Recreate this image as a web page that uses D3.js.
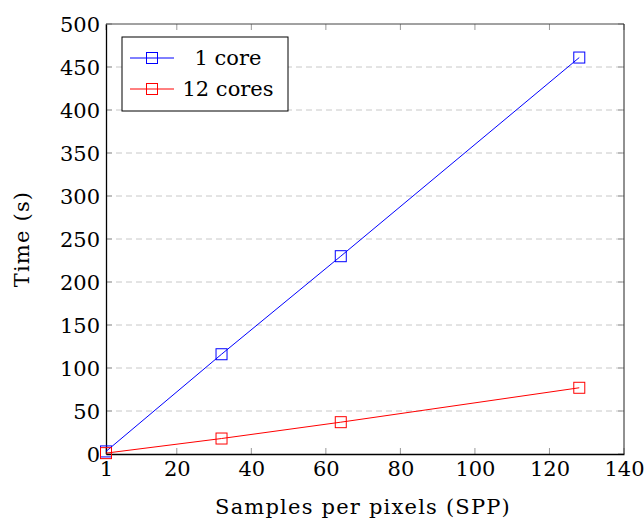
<!DOCTYPE html>
<html>
<head>
<meta charset="utf-8">
<script src="https://cdn.jsdelivr.net/npm/d3@7"></script>
<style>
  body { margin: 0; background: #fff; }
  text { font-family: "DejaVu Serif", "Liberation Serif", serif; }
</style>
</head>
<body>
<div id="chart"></div>
<script>
var svgWidth = 644;
var svgHeight = 524;

var margin = { top: 24, right: 20, bottom: 70, left: 106 };
var width = 624 - margin.left;
var height = 454 - margin.top;
var fontSize = 21;

// data
var spp = [1, 32, 64, 128];
var oneCore = [3, 116, 230, 461];
var twelveCores = [1, 18, 37, 77];
var seriesNames = ["1 core", "12 cores"];
var seriesColors = ["#0000ff", "#ff0000"];
var xTicks = [1, 20, 40, 60, 80, 100, 120, 140];
var yTicks = [0, 50, 100, 150, 200, 250, 300, 350, 400, 450, 500];

var svg = d3.select("#chart").append("svg")
  .attr("width", svgWidth)
  .attr("height", svgHeight);

var chartGroup = svg.append("g")
  .attr("transform", `translate(${margin.left}, ${margin.top})`);

var x = d3.scaleLinear().domain([1, 140]).range([0, width]);
var y = d3.scaleLinear().domain([0, 500]).range([height, 0]);

// dashed horizontal grid
chartGroup.append("g")
  .selectAll("line")
  .data(yTicks.filter(d => d > 0 && d < 500))
  .enter().append("line")
  .attr("x1", 0).attr("x2", width)
  .attr("y1", d => y(d)).attr("y2", d => y(d))
  .attr("stroke", "#c8c8c8")
  .attr("stroke-width", 1)
  .attr("stroke-dasharray", "6,4");

// inner grey tick marks on all four sides
var tickLen = 6;
var tickGroup = chartGroup.append("g").attr("stroke", "#999").attr("stroke-width", 1);
xTicks.forEach(function(t) {
  tickGroup.append("line").attr("x1", x(t)).attr("x2", x(t)).attr("y1", height).attr("y2", height - tickLen);
  tickGroup.append("line").attr("x1", x(t)).attr("x2", x(t)).attr("y1", 0).attr("y2", tickLen);
});
yTicks.forEach(function(t) {
  tickGroup.append("line").attr("x1", 0).attr("x2", tickLen).attr("y1", y(t)).attr("y2", y(t));
  tickGroup.append("line").attr("x1", width).attr("x2", width - tickLen).attr("y1", y(t)).attr("y2", y(t));
});

// frame: top/right grey-ish, left/bottom black
chartGroup.append("line").attr("x1", 0).attr("x2", width).attr("y1", 0).attr("y2", 0)
  .attr("stroke", "#444").attr("stroke-width", 1);
chartGroup.append("line").attr("x1", width).attr("x2", width).attr("y1", 0).attr("y2", height)
  .attr("stroke", "#222").attr("stroke-width", 1);

// axes with labels
var bottomAxis = d3.axisBottom(x).tickValues(xTicks).tickSize(0).tickPadding(7);
var leftAxis = d3.axisLeft(y).tickValues(yTicks).tickSize(0).tickPadding(6);

var xAxis = chartGroup.append("g")
  .attr("transform", `translate(0, ${height})`)
  .call(bottomAxis);
var yAxis = chartGroup.append("g").call(leftAxis);

[xAxis, yAxis].forEach(function(a) {
  a.select(".domain").attr("stroke", "#000").attr("stroke-width", 1.3);
  a.selectAll("text").attr("font-size", fontSize).attr("fill", "#000");
});
xAxis.selectAll("text").attr("dy", "0.71em");
yAxis.selectAll("text").attr("dy", "0.35em");

// series
var allSeries = [oneCore, twelveCores];
var line = d3.line().x((d, i) => x(spp[i])).y(d => y(d));
var markerSize = 11;

allSeries.forEach(function(vals, k) {
  chartGroup.append("path")
    .datum(vals)
    .attr("d", line)
    .attr("fill", "none")
    .attr("stroke", seriesColors[k])
    .attr("stroke-width", 1);
  chartGroup.selectAll(".m" + k)
    .data(vals)
    .enter().append("rect")
    .attr("class", "m" + k)
    .attr("x", (d, i) => x(spp[i]) - markerSize / 2)
    .attr("y", d => y(d) - markerSize / 2)
    .attr("width", markerSize)
    .attr("height", markerSize)
    .attr("fill", "none")
    .attr("stroke", seriesColors[k])
    .attr("stroke-width", 1);
});

// legend
var legend = svg.append("g").attr("transform", "translate(122, 37)");
legend.append("rect")
  .attr("width", 166).attr("height", 74)
  .attr("fill", "#fff").attr("stroke", "#000").attr("stroke-width", 1);
seriesNames.forEach(function(name, k) {
  var ly = 21 + k * 31;
  legend.append("line")
    .attr("x1", 8).attr("x2", 52).attr("y1", ly).attr("y2", ly)
    .attr("stroke", seriesColors[k]).attr("stroke-width", 1);
  legend.append("rect")
    .attr("x", 30 - markerSize / 2).attr("y", ly - markerSize / 2)
    .attr("width", markerSize).attr("height", markerSize)
    .attr("fill", "none").attr("stroke", seriesColors[k]).attr("stroke-width", 1);
  legend.append("text")
    .attr("x", 106).attr("y", ly)
    .attr("dy", "0.35em")
    .attr("text-anchor", "middle")
    .attr("font-size", fontSize)
    .text(name);
});

// axis titles
svg.append("text")
  .attr("x", margin.left + width / 2 - 2).attr("y", 514)
  .attr("text-anchor", "middle")
  .attr("font-size", fontSize)
  .attr("letter-spacing", 1.2)
  .text("Samples per pixels (SPP)");

svg.append("text")
  .attr("transform", `translate(29, ${margin.top + height / 2}) rotate(-90)`)
  .attr("text-anchor", "middle")
  .attr("font-size", fontSize)
  .attr("letter-spacing", 1.2)
  .text("Time (s)");
</script>
</body>
</html>
